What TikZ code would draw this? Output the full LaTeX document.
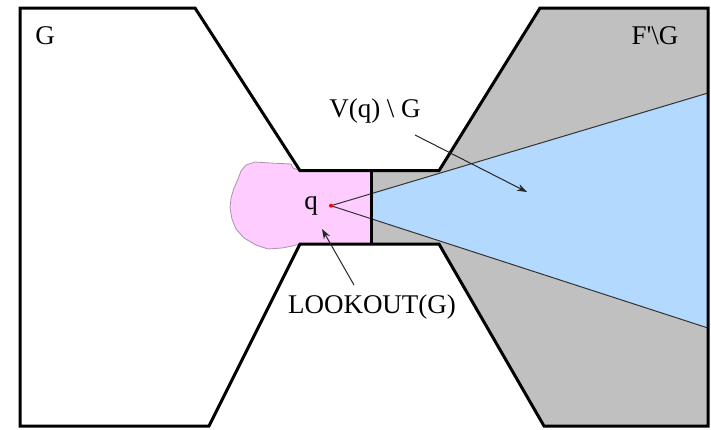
\documentclass[tikz,border=0pt]{standalone}
\usepackage{fontspec}
\setmainfont{Liberation Serif}
\usetikzlibrary{arrows.meta}
\definecolor{grayfill}{HTML}{C0C0C0}
\definecolor{bluefill}{HTML}{B3D9FF}
\definecolor{pinkfill}{HTML}{FFCCFF}
\definecolor{pinkline}{HTML}{B090B0}
\tikzset{
  outline/.style={draw=black,line width=1.5pt,line join=miter},
  ray/.style={draw=black!80,line width=0.5pt},
  pointer/.style={draw=black!85,line width=0.5pt,-{Stealth[length=5pt,width=3.5pt]}},
  lbl/.style={font=\fontsize{13.5}{16}\selectfont,inner sep=0pt},
}
\begin{document}
\begin{tikzpicture}[x=0.5pt,y=-0.5pt]
\useasboundingbox (0,0) rectangle (711,429);
\fill[white] (0,0) rectangle (711,429);
% gray region (right polygon + right half of corridor)
\fill[grayfill] (371,170.7) -- (439,170.7) -- (540,8) -- (708,8) -- (708,426) -- (544,426) -- (439,244) -- (371,244) -- cycle;
% blue visibility wedge
\coordinate (q) at (331,205.7);
\coordinate (vtop) at (708,93);
\coordinate (vbot) at (708,328);
\fill[bluefill] (371,193.7) -- (vtop) -- (vbot) -- (371,218.7) -- cycle;
% pink lookout blob
\fill[pinkfill]
  (300,170.7) -- (293,168) -- (291,164) -- (270,163) -- (255,162) -- (246,165) -- (241,171)
  -- (238,179) -- (234,188) -- (231,198) -- (230,208) -- (232,219) -- (236,229)
  -- (244,238) -- (256,245) -- (268,249) -- (282,248) -- (292,246) -- (300,244) -- cycle;
\draw[draw=pinkline,line width=0.4pt]
  (300,170.7) -- (293,168) -- (291,164) -- (270,163) -- (255,162) -- (246,165) -- (241,171)
  -- (238,179) -- (234,188) -- (231,198) -- (230,208) -- (232,219) -- (236,229)
  -- (244,238) -- (256,245) -- (268,249) -- (282,248) -- (292,246) -- (300,244);
\fill[pinkfill] (299,170.7) rectangle (371,244);
% rays
\draw[ray] (q) -- (vtop);
\draw[ray] (q) -- (vbot);
% outline of G, corridor and F
\draw[outline] (20,8) -- (195,8) -- (300,170.7) -- (439,170.7) -- (540,8) -- (708,8)
  -- (708,426) -- (544,426) -- (439,244) -- (300,244) -- (209,426) -- (20,426) -- cycle;
\draw[outline] (371,170.7) -- (371,244);
% point q
\fill[red] (q) circle (2);
% labels
\node[lbl] (lG) at (45,36) {G};
\node[lbl] (lF) at (655,36) {F\textquotesingle\textbackslash G};
\node[lbl] (lq) at (311,206) {q};
\node[lbl] (lV) at (375,111) {V(q) \textbackslash{} G};
\node[lbl] (lL) at (372,307) {LOOKOUT(G)};
% pointers
\coordinate (vs) at (415,135);
\coordinate (ve) at (527,192);
\coordinate (ls) at (354,285);
\coordinate (le) at (322,229);
\draw[pointer] (vs) -- (ve);
\draw[pointer] (ls) -- (le);
\end{tikzpicture}
\end{document}
